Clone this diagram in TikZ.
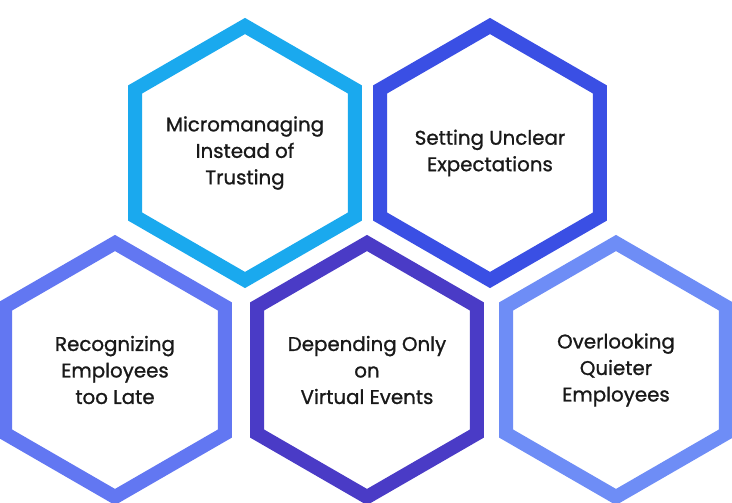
\documentclass[tikz,border=0pt]{standalone}
\usepackage{fontspec}
\setmainfont{Poppins}
\newfontfamily\lblfont{Poppins}[FakeBold=1.0]
\usetikzlibrary{shapes.geometric}
\definecolor{cA}{HTML}{1AA9EE}
\definecolor{cB}{HTML}{3A4FE4}
\definecolor{cC}{HTML}{6277F2}
\definecolor{cD}{HTML}{4A3BC6}
\definecolor{cE}{HTML}{6E8DF6}
\tikzset{hex/.style={regular polygon,regular polygon sides=6,shape border rotate=30,minimum size=254pt,line width=14pt,fill=white,draw=#1,inner sep=0pt},
 lbl/.style={align=center,font=\lblfont\fontsize{19.8}{26.5}\selectfont,text=black!90}}
\begin{document}
\begin{tikzpicture}[x=1pt,y=-1pt]
\useasboundingbox (0,0) rectangle (732,503);
\node[hex=cA] (h1) at (245,153) {};
\node[hex=cB] (h2) at (490,153) {};
\node[hex=cC] (h3) at (115,370) {};
\node[hex=cD] (h4) at (367,370) {};
\node[hex=cE] (h5) at (616,370) {};
\node[lbl] (t1) at (h1) {Micromanaging\\Instead of\\Trusting};
\node[lbl] (t2) at (h2) {Setting Unclear\\Expectations};
\node[lbl] (t3) at (h3) {Recognizing\\Employees\\too Late};
\node[lbl] (t4) at (h4) {Depending Only\\on\\Virtual Events};
\node[lbl] (t5) at (h5) {Overlooking\\Quieter\\Employees};
\end{tikzpicture}
\end{document}
